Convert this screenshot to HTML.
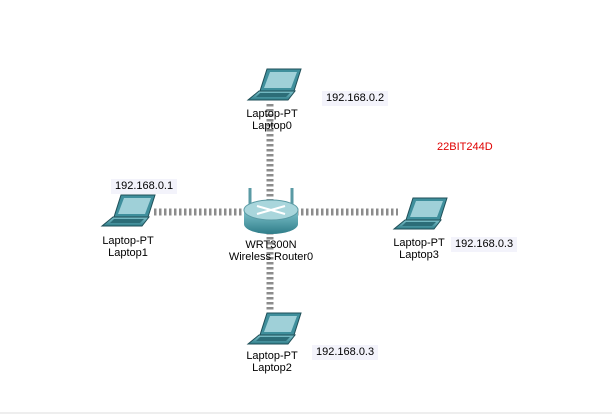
<!DOCTYPE html>
<html><head><style>
body{margin:0;background:#fff;width:612px;height:414px;overflow:hidden;position:relative;font-family:"Liberation Sans",sans-serif;font-size:11px}
.t{position:absolute;color:#000;text-align:center;line-height:12px;white-space:nowrap}
.ip{position:absolute;background:#f3f3fb;padding:1px 4px;font-size:11px;line-height:13px}
</style></head><body>
<svg width="612" height="414" style="position:absolute;left:0;top:0">
<defs>
<linearGradient id="g" x1="0" y1="0" x2="0" y2="1"><stop offset="0" stop-color="#7fc3cc"/><stop offset="1" stop-color="#2f7d89"/></linearGradient>
<g id="lap">
<polygon points="19,0 53,0 46,22 12,22" fill="#3f8f9c" stroke="#1f4f58" stroke-width="1"/>
<polygon points="22,3 49,3 43,19 16,19" fill="#9fd0d8"/>
<polygon points="11,22 47,22 40,31 0,31" fill="url(#g)" stroke="#1f4f58" stroke-width="1"/>
<polygon points="12,24 42,24 38,28 8,28" fill="#2c6d78"/>
</g>
</defs>
<g stroke="#8c8c8c" stroke-width="7" stroke-dasharray="2.5,2.5">
<line x1="270" y1="104" x2="270" y2="200"/>
<line x1="270" y1="232" x2="270" y2="312"/>
<line x1="154" y1="212" x2="246" y2="212"/>
<line x1="296" y1="212" x2="398" y2="212"/>
</g>
<use href="#lap" x="248" y="69"/>
<use href="#lap" x="102" y="195"/>
<use href="#lap" x="394" y="198"/>
<use href="#lap" x="248" y="313"/>
<!-- router -->
<line x1="250" y1="188" x2="250" y2="210" stroke="#5a9aa4" stroke-width="3"/>
<line x1="292" y1="188" x2="292" y2="210" stroke="#5a9aa4" stroke-width="3"/>
<path d="M244,210 v14 a27,10 0 0 0 54,0 v-14 z" fill="url(#g)"/>
<ellipse cx="271" cy="210" rx="27" ry="10" fill="#a9d6dc" stroke="#5a9aa4"/>
<g stroke="#fff" stroke-width="2"><line x1="257" y1="206" x2="285" y2="214"/><line x1="257" y1="214" x2="285" y2="206"/></g>
</svg>
<div class="t" style="left:242px;top:108px;width:60px">Laptop-PT<br>Laptop0</div>
<div class="t" style="left:226px;top:239px;width:90px">WRT300N<br>Wireless Router0</div>
<div class="t" style="left:98px;top:235px;width:60px">Laptop-PT<br>Laptop1</div>
<div class="t" style="left:389px;top:237px;width:60px">Laptop-PT<br>Laptop3</div>
<div class="t" style="left:242px;top:350px;width:60px">Laptop-PT<br>Laptop2</div>
<div class="ip" style="left:322px;top:91px">192.168.0.2</div>
<div class="ip" style="left:111px;top:179px">192.168.0.1</div>
<div class="ip" style="left:451px;top:237px">192.168.0.3</div>
<div class="ip" style="left:312px;top:345px">192.168.0.3</div>
<div class="t" style="left:437px;top:141px;color:#e00000">22BIT244D</div>
<div style="position:absolute;left:0;top:412px;width:612px;height:2px;background:#eee"></div>
</body></html>
